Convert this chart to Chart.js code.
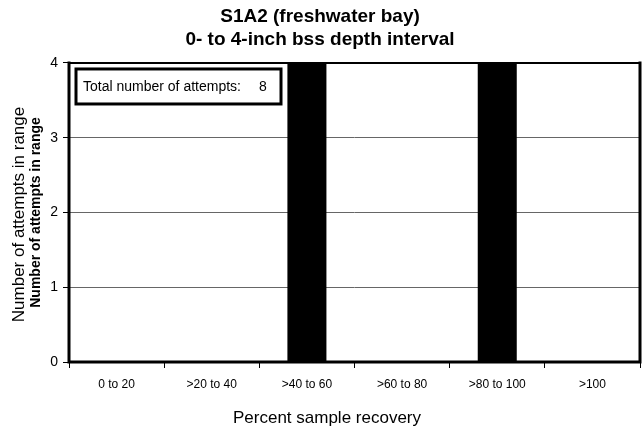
<!DOCTYPE html>
<html>
<head>
<meta charset="utf-8">
<script src="https://cdn.jsdelivr.net/npm/chart.js@4"></script>
<style>
  html, body { margin: 0; padding: 0; background: #fff; }
  #wrap { width: 643px; height: 435px; }
</style>
</head>
<body>
<div id="wrap"><canvas id="c" width="643" height="435"></canvas></div>
<script>
const categories = ['0 to 20', '>20 to 40', '>40 to 60', '>60 to 80', '>80 to 100', '>100'];
const attempts = [0, 0, 4, 0, 4, 0];
const yTicks = [0, 1, 2, 3, 4];
const titleLines = ['S1A2 (freshwater bay)', '0- to 4-inch bss depth interval'];
const xTitle = 'Percent sample recovery';
const yTitleNormal = 'Number of attempts in range';
const yTitleBold = 'Number of attempts in range';
const totalLabel = 'Total number of attempts:';

const FONT = "'Liberation Sans', Arial, Helvetica, sans-serif";
Chart.defaults.font.family = FONT;
Chart.defaults.color = '#000';

const framePlugin = {
  id: 'frame',
  afterDraw(chart) {
    const {ctx, chartArea: a} = chart;
    ctx.save();
    ctx.strokeStyle = '#000';
    ctx.lineCap = 'square';
    // top
    ctx.lineWidth = 2;
    ctx.beginPath(); ctx.moveTo(a.left, a.top); ctx.lineTo(a.right, a.top); ctx.stroke();
    ctx.lineWidth = 3;
    ctx.beginPath(); ctx.moveTo(a.left, a.top); ctx.lineTo(a.left, a.bottom); ctx.lineTo(a.right, a.bottom); ctx.lineTo(a.right, a.top); ctx.stroke();

    // total box
    const total = attempts.reduce((s, v) => s + v, 0);
    const bx = a.left + 7, by = a.top + 6, bw = 205, bh = 35;
    ctx.lineWidth = 3;
    ctx.lineCap = 'butt';
    ctx.fillStyle = '#fff';
    ctx.fillRect(bx, by, bw, bh);
    ctx.strokeRect(bx, by, bw, bh);
    ctx.fillStyle = '#000';
    ctx.font = '14px ' + FONT;
    ctx.textBaseline = 'middle';
    ctx.textAlign = 'left';
    ctx.fillText(totalLabel, bx + 7, by + bh / 2 + 1);
    ctx.fillText(String(total), bx + 183, by + bh / 2 + 1);

    // second (normal weight) y title
    ctx.save();
    ctx.translate(19, (a.top + a.bottom) / 2 + 2);
    ctx.rotate(-Math.PI / 2);
    ctx.font = '17px ' + FONT;
    ctx.textAlign = 'center';
    ctx.textBaseline = 'middle';
    ctx.fillText(yTitleNormal, 0, 0);
    ctx.restore();

    // x title
    ctx.font = '17px ' + FONT;
    ctx.textAlign = 'center';
    ctx.textBaseline = 'middle';
    ctx.fillText(xTitle, 327, 418);
    ctx.restore();
  }
};

new Chart(document.getElementById('c'), {
  type: 'bar',
  data: {
    labels: categories,
    datasets: [{
      data: attempts,
      backgroundColor: '#000',
      borderWidth: 0,
      barPercentage: 0.41,
      categoryPercentage: 1.0
    }]
  },
  options: {
    responsive: false,
    animation: false,
    layout: { padding: { left: 0, right: 3, top: 0, bottom: 0 } },
    plugins: {
      legend: { display: false },
      tooltip: { enabled: false },
      title: {
        display: true,
        text: titleLines,
        color: '#000',
        font: { size: 19, weight: 'bold', lineHeight: 1.21 },
        padding: { top: 5, bottom: 12 }
      }
    },
    scales: {
      x: {
        offset: true,
        grid: { display: true, drawOnChartArea: false, drawTicks: true, tickLength: 6, tickColor: '#000', offset: true },
        border: { display: false },
        ticks: { font: { size: 12 }, color: '#000', padding: 9, maxRotation: 0, autoSkip: false },
        title: { display: false },
        afterFit(scale) { scale.height = 73; }
      },
      y: {
        min: 0,
        max: 4,
        afterBuildTicks(scale) { scale.ticks = yTicks.map(v => ({ value: v })); },
        grid: { color: '#666', lineWidth: 1, drawTicks: true, tickLength: 6, tickColor: '#000' },
        border: { display: false },
        ticks: { font: { size: 14 }, color: '#000', padding: 5 },
        title: { display: true, text: yTitleBold, color: '#000', font: { size: 14, weight: 'bold' }, padding: { top: 28, bottom: 0 } },
        afterFit(scale) { scale.width = 69; }
      }
    }
  },
  plugins: [framePlugin]
});
</script>
</body>
</html>
